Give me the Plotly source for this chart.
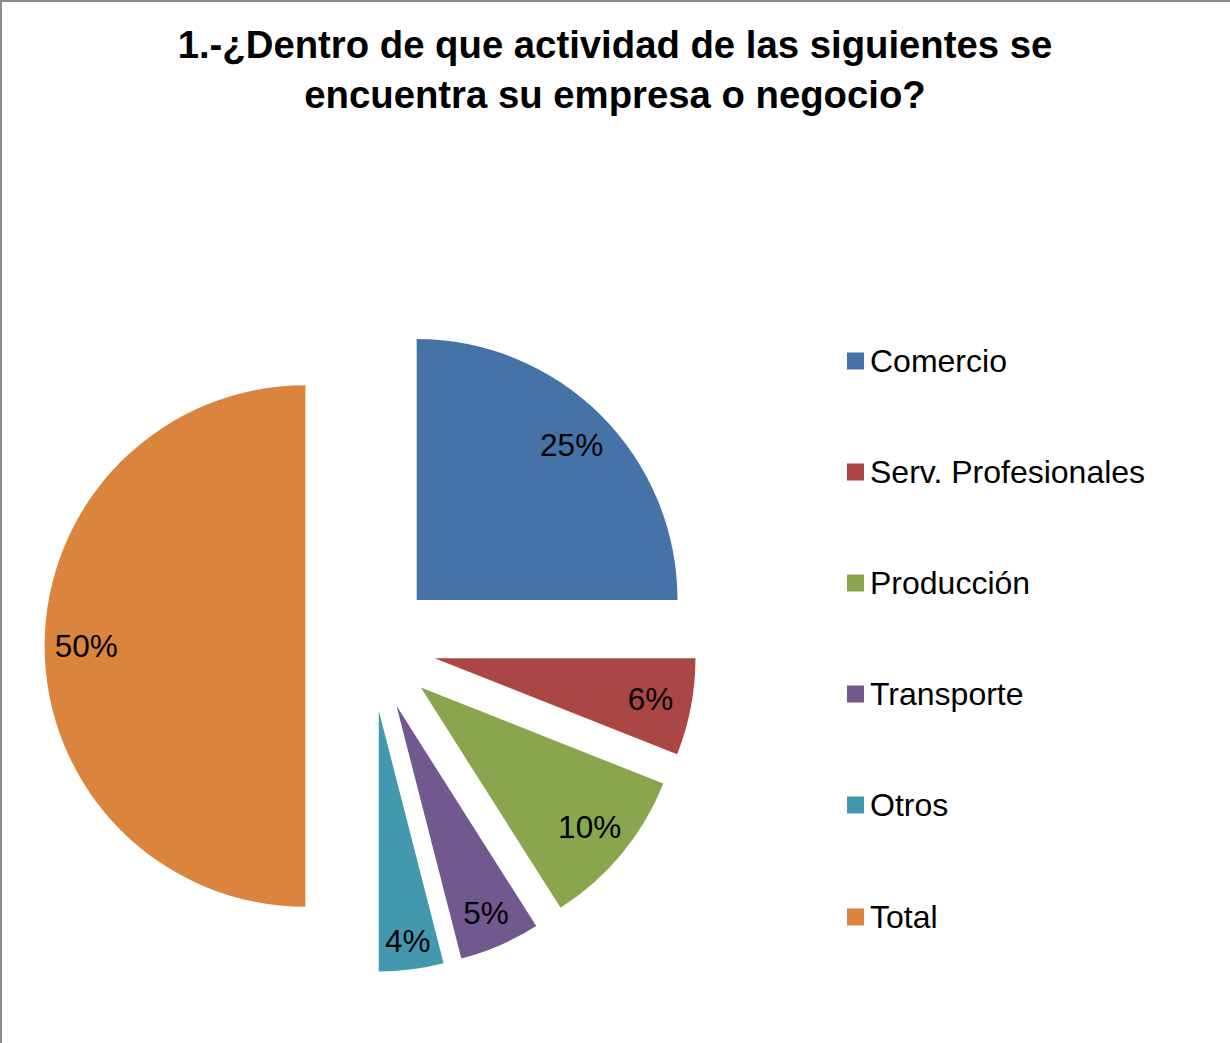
import plotly.graph_objects as go

# Data
categorias = ["Comercio", "Serv. Profesionales", "Producción", "Transporte", "Otros", "Total"]
valores = [50, 12, 20, 10, 8, 100]
colores = ["#4572A7", "#AA4643", "#89A54E", "#71588F", "#4198AF", "#DB843D"]
titulo = "<b>1.-¿Dentro de que actividad de las siguientes se<br>encuentra su empresa o negocio?</b>"

W, H = 1230, 1043
dominio = dict(x = [44.6 / W, 696.6 / W], y = [1 - 972 / H, 1 - 320 / H])
fuente = "Liberation Sans, Arial"

fig = go.Figure()

# Slices
fig.add_trace(go.Pie(
    labels = categorias,
    values = valores,
    sort = False,
    direction = "clockwise",
    rotation = 0,
    pull = 0.25,
    marker = dict(colors = colores, line = dict(width = 0)),
    textinfo = "none",
    hoverinfo = "label+percent",
    showlegend = False,
    domain = dominio,
))

# Same pie as a transparent ring, only to push the percent labels outwards
fig.add_trace(go.Pie(
    labels = categorias,
    values = valores,
    sort = False,
    direction = "clockwise",
    rotation = 0,
    pull = 0.25,
    hole = 0.68,
    marker = dict(colors = ["rgba(0,0,0,0)"] * len(categorias), line = dict(width = 0)),
    texttemplate = "%{percent:.0%}",
    textposition = "inside",
    insidetextorientation = "horizontal",
    textfont = dict(family = fuente, size = 31.5, color = "black"),
    hoverinfo = "skip",
    showlegend = False,
    domain = dominio,
))

# Legend drawn by hand so the rows can be spaced like the original
shapes = []
annotations = []
fila_y = [361, 472, 583, 694, 805, 917]
for i, (cat, col) in enumerate(zip(categorias, colores)):
    y = fila_y[i]
    shapes.append(dict(type = "rect", xref = "paper", yref = "paper",
                       x0 = 847 / W, x1 = 864 / W,
                       y0 = 1 - (y + 8.5) / H, y1 = 1 - (y - 8.5) / H,
                       fillcolor = col, line = dict(width = 0)))
    annotations.append(dict(text = cat, xref = "paper", yref = "paper",
                            x = 868 / W, y = 1 - y / H, xanchor = "left", yanchor = "middle",
                            showarrow = False,
                            font = dict(family = fuente, size = 32, color = "black")))

# Border (left and top visible)
shapes.append(dict(type = "rect", xref = "paper", yref = "paper",
                   x0 = 0, x1 = 1.2, y0 = -0.2, y1 = 1,
                   line = dict(color = "#8c8c8c", width = 4)))

fig.update_layout(
    width = W,
    height = H,
    margin = dict(l = 0, r = 0, t = 0, b = 0),
    paper_bgcolor = "white",
    plot_bgcolor = "white",
    title = dict(text = titulo, x = 0.5, xanchor = "center", y = 1 - 58 / H, yanchor = "top",
                 font = dict(family = fuente, size = 38.3, color = "black")),
    shapes = shapes,
    annotations = annotations,
    uniformtext = dict(minsize = 31.5, mode = "show"),
)

fig.write_html("out.html", config = {"displayModeBar": False},
               post_script = "document.body.style.margin = '0px';")
